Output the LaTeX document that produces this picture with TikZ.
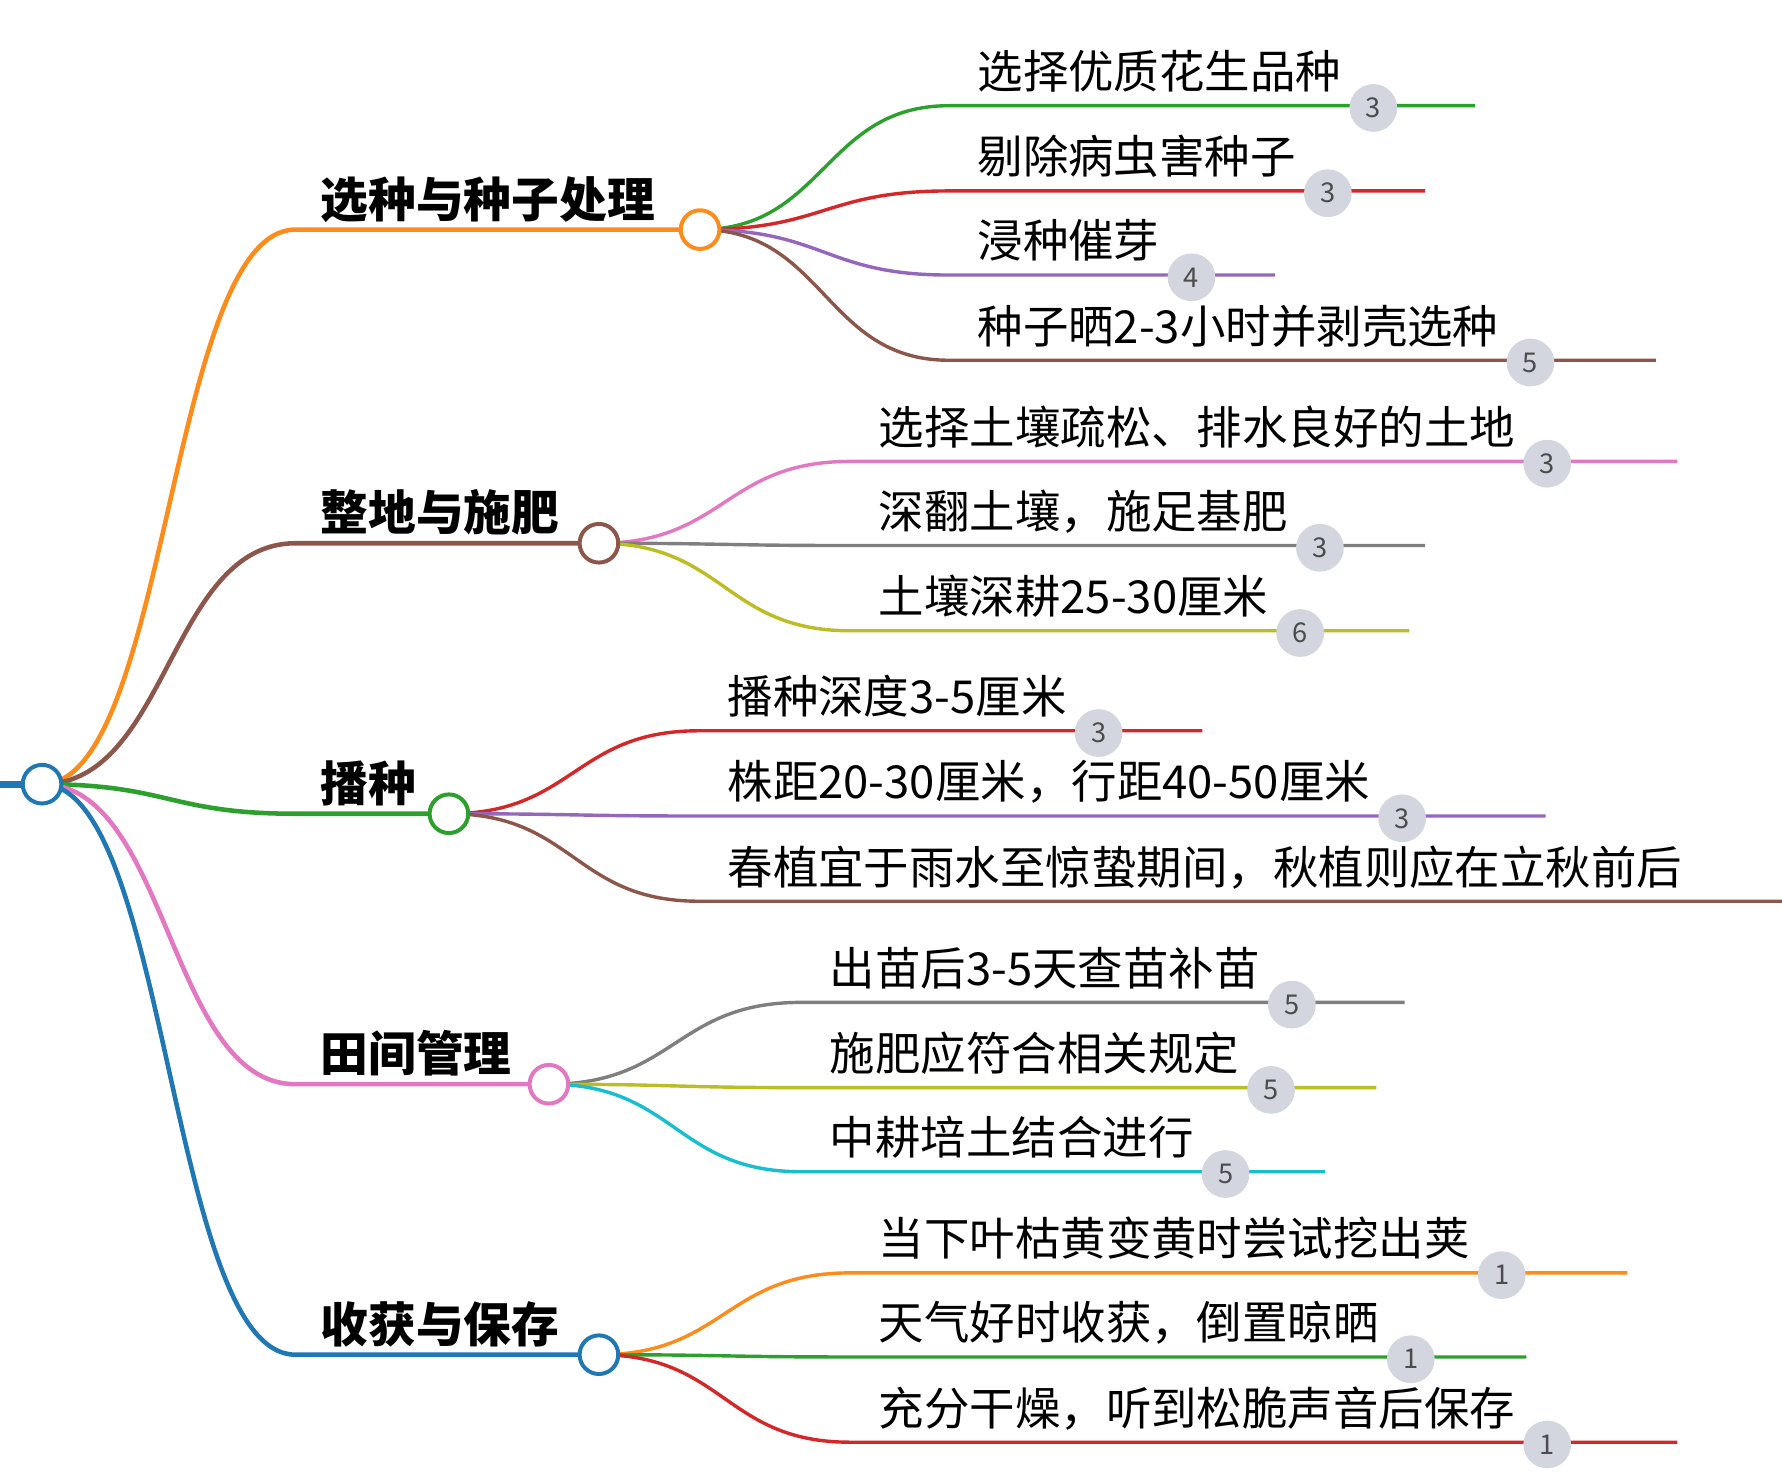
\documentclass[tikz,border=0pt]{standalone}
\usepackage{fontspec}
\setmainfont{Noto Sans CJK SC}
\usetikzlibrary{calc}
\definecolor{cOr}{HTML}{FF8C1A}
\definecolor{cGr}{HTML}{2CA02C}
\definecolor{cRd}{HTML}{D62728}
\definecolor{cPu}{HTML}{9467BD}
\definecolor{cBr}{HTML}{8C564B}
\definecolor{cPk}{HTML}{E377C2}
\definecolor{cGy}{HTML}{7F7F7F}
\definecolor{cOl}{HTML}{BCBD22}
\definecolor{cCy}{HTML}{17BECF}
\definecolor{cBl}{HTML}{1F77B4}
\definecolor{bdg}{HTML}{D3D6DE}
\tikzset{
 leafline/.style={line width=3pt},
 brline/.style={line width=4pt},
 leaftext/.style={font=\fontsize{40}{44}\selectfont,inner sep=0pt,text=black},
 brtext/.style={font=\fontsize{42}{46}\selectfont\bfseries,inner sep=0pt,text=black},
 badge/.style={circle,fill=bdg,minimum size=42pt,inner sep=0pt,text=black!70,font=\fontsize{24}{26}\selectfont},
 dot/.style={circle,draw,line width=3.5pt,fill=white,minimum size=34pt,inner sep=0pt}
}
% name, color, parent, x0, y, x1, text
\newcommand\leafl[7]{%
 \coordinate (#1s) at (#4,#5); \coordinate (#1e) at (#6,#5);
 \coordinate (#1m) at ($(#3)!.5!(#1s)$);
 \draw[#2,leafline] (#3) .. controls (#1m |- #3) and (#1m |- #1s) .. (#1s) -- (#1e);
 \node[leaftext,anchor=base west] (#1t) at (#4+25,#5-15) {#7};}
\newcommand\leaf[8]{\leafl{#1}{#2}{#3}{#4}{#5}{#6}{#7}%
 \node[badge] (#1b) at ($(#1t.base east)+(28,17)$) {#8};}
\newcommand\branch[6]{% name color x_circle y text
 \coordinate (#1s) at (260,#4); \coordinate (#1c) at (#3,#4);
 \coordinate (#1m) at ($(root)!.5!(#1s)$);
 \draw[#2,brline] (root) .. controls (#1m |- root) and (#1m |- #1s) .. (#1s) -- (#1c);
 \node[brtext,anchor=base west] (#1t) at (282,#4-11) {#5};}
\begin{document}
\begin{tikzpicture}[x=1pt,y=-1pt]
\useasboundingbox (0,0) rectangle (1568,1302);
\coordinate (root) at (37,690);
\coordinate (rootl) at (0,690);
\draw[cBl,line width=6pt] (rootl) -- (root);
\branch{b1}{cOr}{616}{202}{选种与种子处理}{}
\branch{b2}{cBr}{527}{478}{整地与施肥}{}
\branch{b3}{cGr}{395}{716}{播种}{}
\branch{b4}{cPk}{483}{954}{田间管理}{}
\branch{b5}{cBl}{527}{1192}{收获与保存}{}
\leaf{a1}{cGr}{b1c}{835}{93}{1298}{选择优质花生品种}{3}
\leaf{a2}{cRd}{b1c}{835}{168}{1254}{剔除病虫害种子}{3}
\leaf{a3}{cPu}{b1c}{835}{242}{1122}{浸种催芽}{4}
\leaf{a4}{cBr}{b1c}{835}{317}{1457}{种子晒2-3小时并剥壳选种}{5}
\leaf{c1}{cPk}{b2c}{748}{406}{1476}{选择土壤疏松、排水良好的土地}{3}
\leaf{c2}{cGy}{b2c}{748}{480}{1254}{深翻土壤，施足基肥}{3}
\leaf{c3}{cOl}{b2c}{748}{555}{1240}{土壤深耕25-30厘米}{6}
\leaf{d1}{cRd}{b3c}{615}{643}{1058}{播种深度3-5厘米}{3}
\leaf{d2}{cPu}{b3c}{615}{718}{1360}{株距20-30厘米，行距40-50厘米}{3}
\leafl{d3}{cBr}{b3c}{615}{793}{1568}{春植宜于雨水至惊蛰期间，秋植则应在立秋前后}
\leaf{e1}{cGy}{b4c}{705}{882}{1236}{出苗后3-5天查苗补苗}{5}
\leaf{e2}{cOl}{b4c}{705}{957}{1211}{施肥应符合相关规定}{5}
\leaf{e3}{cCy}{b4c}{705}{1031}{1166}{中耕培土结合进行}{5}
\leaf{f1}{cOr}{b5c}{748}{1120}{1432}{当下叶枯黄变黄时尝试挖出荚}{1}
\leaf{f2}{cGr}{b5c}{748}{1194}{1343}{天气好时收获，倒置晾晒}{1}
\leaf{f3}{cRd}{b5c}{748}{1269}{1476}{充分干燥，听到松脆声音后保存}{1}
\node[dot,draw=cOr] (n1) at (b1c) {};
\node[dot,draw=cBr] (n2) at (b2c) {};
\node[dot,draw=cGr] (n3) at (b3c) {};
\node[dot,draw=cPk] (n4) at (b4c) {};
\node[dot,draw=cBl] (n5) at (b5c) {};
\node[dot,draw=cBl] (n0) at (root) {};
\end{tikzpicture}
\end{document}
